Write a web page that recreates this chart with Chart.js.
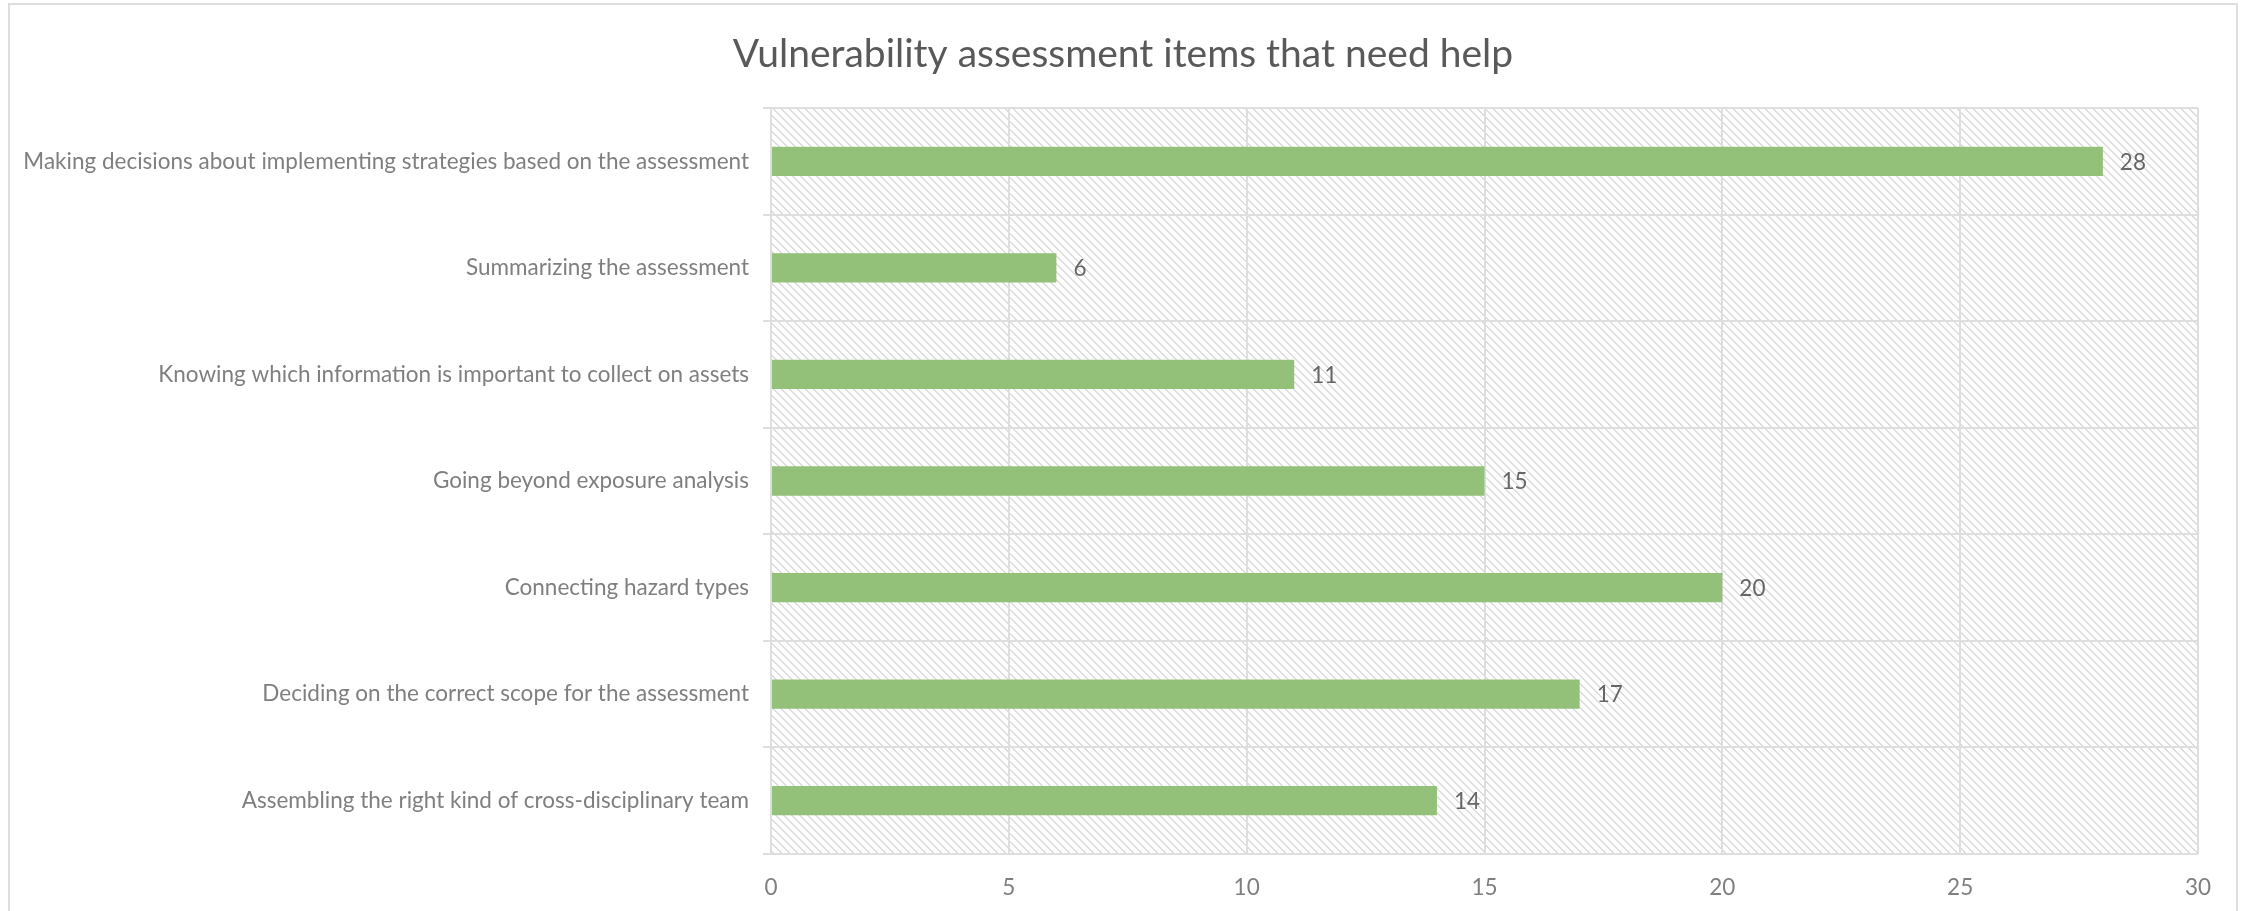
<!DOCTYPE html>
<html>
<head>
<meta charset="utf-8">
<script src="https://cdn.jsdelivr.net/npm/chart.js@4"></script>
<style>
  html, body { margin: 0; padding: 0; background: #fff; }
  #wrap { width: 2241px; height: 911px; }
</style>
</head>
<body>
<div id="wrap"><canvas id="myChart" width="2241" height="911"></canvas></div>
<script>
const titleText = "Vulnerability assessment items that need help";

const items = [
    "Making decisions about implementing strategies based on the assessment",
    "Summarizing the assessment",
    "Knowing which information is important to collect on assets",
    "Going beyond exposure analysis",
    "Connecting hazard types",
    "Deciding on the correct scope for the assessment",
    "Assembling the right kind of cross-disciplinary team",
];
const counts = [28, 6, 11, 15, 20, 17, 14];
const xTicks = [0, 5, 10, 15, 20, 25, 30];

const gridColor = "#dedede";
const fontFamily = "Lato, 'Open Sans', sans-serif";

// diagonal hatch tile used behind the bars
function makeHatch() {
    const tile = document.createElement("canvas");
    tile.width = 8;
    tile.height = 8;
    const t = tile.getContext("2d");
    t.fillStyle = "#ffffff";
    t.fillRect(0, 0, 8, 8);
    t.fillStyle = "#dcdcdc";
    for (let i = 0; i < 8; i++) {
        t.fillRect(i, i, 1, 1);
        t.fillRect((i + 1) % 8, i, 1, 1);
    }
    return tile;
}

const backdrop = {
    id: "backdrop",
    beforeDraw(chart) {
        const { ctx, chartArea } = chart;
        ctx.save();
        // outer frame
        ctx.strokeStyle = gridColor;
        ctx.lineWidth = 2;
        ctx.strokeRect(9, 4, 2228, 1000);
        // hatched plot area
        ctx.fillStyle = ctx.createPattern(makeHatch(), "repeat");
        ctx.fillRect(chartArea.left, chartArea.top,
            chartArea.right - chartArea.left, chartArea.bottom - chartArea.top);
        // title, centred on the frame
        ctx.font = "39px " + fontFamily;
        ctx.fillStyle = "#595959";
        ctx.textAlign = "center";
        ctx.textBaseline = "middle";
        ctx.fillText(titleText, 1123, 54);
        ctx.restore();
    },
};

const valueLabels = {
    id: "valueLabels",
    afterDatasetsDraw(chart) {
        const { ctx } = chart;
        const meta = chart.getDatasetMeta(0);
        ctx.save();
        ctx.font = "22.5px " + fontFamily;
        ctx.fillStyle = "#666666";
        ctx.textAlign = "left";
        ctx.textBaseline = "middle";
        meta.data.forEach((bar, i) => {
            ctx.fillText(String(counts[i]), bar.x + 17, bar.y + 1);
        });
        ctx.restore();
    },
};

const ctx = document.getElementById("myChart").getContext("2d");
const chart = new Chart(ctx, {
    type: "bar",
    data: {
        labels: items,
        datasets: [
            {
                label: "Count",
                data: counts,
                backgroundColor: "#93c179",
                borderWidth: 0,
                barPercentage: 0.275,
                categoryPercentage: 1,
            },
        ],
    },
    options: {
        indexAxis: "y",
        responsive: false,
        animation: false,
        layout: {
            padding: { left: 10, right: 43, top: 108, bottom: 0 },
        },
        scales: {
            x: {
                type: "linear",
                position: "bottom",
                min: 0,
                max: 30,
                afterBuildTicks: (scale) => {
                    scale.ticks = xTicks.map((v) => ({ value: v }));
                },
                afterFit: (scale) => {
                    scale.height = 57;
                },
                grid: {
                    color: gridColor,
                    lineWidth: 2,
                    drawTicks: false,
                },
                border: { display: false },
                ticks: {
                    padding: 20,
                    color: "#7f7f7f",
                    font: { family: fontFamily, size: 22.5 },
                },
            },
            y: {
                type: "category",
                afterFit: (scale) => {
                    scale.width = 761;
                },
                grid: {
                    offset: true,
                    color: gridColor,
                    lineWidth: 2,
                    tickLength: 8,
                },
                border: { display: true, color: gridColor, width: 2 },
                ticks: {
                    padding: 14,
                    color: "#7f7f7f",
                    font: { family: fontFamily, size: 22.5 },
                    autoSkip: false,
                },
            },
        },
        plugins: {
            legend: { display: false },
            tooltip: { enabled: false },
            title: { display: false },
        },
    },
    plugins: [backdrop, valueLabels],
});
</script>
</body>
</html>
